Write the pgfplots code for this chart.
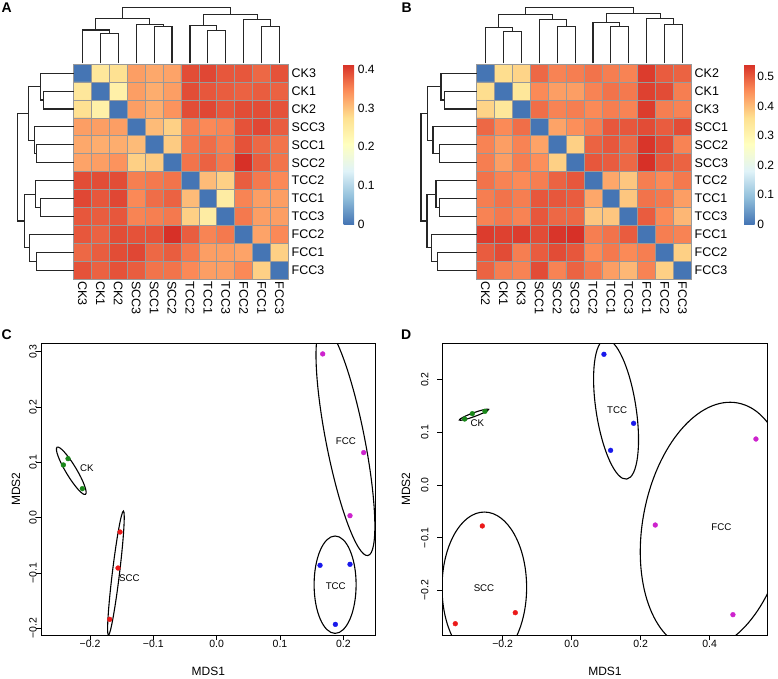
\documentclass[border=0pt]{standalone}
\usepackage{pgfplots}
\pgfplotsset{compat=1.18}
\usepackage{pgfplotstable}
\usepackage{fontspec}
\setmainfont{Liberation Sans}
\definecolor{grey60}{RGB}{153,153,153}
\definecolor{ckgreen}{RGB}{25,135,25}
\definecolor{sccred}{RGB}{235,25,25}
\definecolor{tccblue}{RGB}{25,25,235}
\definecolor{fccmag}{RGB}{205,35,205}
\newcommand\hfont{\fontsize{12.5}{14}\selectfont}
\newcommand\cfont{\fontsize{12}{14}\selectfont}
\newcommand\tfont{\fontsize{10.5}{12}\selectfont}
\newcommand\lfont{\fontsize{12}{14}\selectfont}
\newcommand\gfont{\fontsize{9.7}{11}\selectfont}
\tikzset{ell/.style={black, line width=1.1pt}}

\pgfplotstableread{
x y c
0 0 0
1 0 0.260
2 0 0.273
3 0 0.330
4 0 0.322
5 0 0.326
6 0 0.392
7 0 0.396
8 0 0.384
9 0 0.384
10 0 0.372
11 0 0.388
0 1 0.260
1 1 0
2 1 0.240
3 1 0.330
4 1 0.318
5 1 0.330
6 1 0.392
7 1 0.384
8 1 0.380
9 1 0.376
10 1 0.380
11 1 0.376
0 2 0.273
1 2 0.240
2 2 0
3 2 0.330
4 2 0.318
5 2 0.339
6 2 0.392
7 2 0.396
8 2 0.384
9 2 0.392
10 2 0.392
11 2 0.388
0 3 0.330
1 3 0.330
2 3 0.330
3 3 0
4 3 0.306
5 3 0.289
6 3 0.355
7 3 0.347
8 3 0.351
9 3 0.388
10 3 0.396
11 3 0.380
0 4 0.322
1 4 0.318
2 4 0.318
3 4 0.306
4 4 0
5 4 0.293
6 4 0.359
7 4 0.368
8 4 0.355
9 4 0.388
10 4 0.372
11 4 0.363
0 5 0.326
1 5 0.330
2 5 0.339
3 5 0.289
4 5 0.293
5 5 0
6 5 0.363
7 5 0.376
8 5 0.359
9 5 0.413
10 5 0.380
11 5 0.363
0 6 0.392
1 6 0.392
2 6 0.392
3 6 0.355
4 6 0.359
5 6 0.363
6 6 0
7 6 0.306
8 6 0.289
9 6 0.380
10 6 0.359
11 6 0.347
0 7 0.396
1 7 0.384
2 7 0.396
3 7 0.347
4 7 0.368
5 7 0.376
6 7 0.306
7 7 0
8 7 0.248
9 7 0.351
10 7 0.330
11 7 0.330
0 8 0.384
1 8 0.380
2 8 0.384
3 8 0.351
4 8 0.355
5 8 0.359
6 8 0.289
7 8 0.248
8 8 0
9 8 0.359
10 8 0.330
11 8 0.330
0 9 0.384
1 9 0.376
2 9 0.392
3 9 0.388
4 9 0.388
5 9 0.413
6 9 0.380
7 9 0.351
8 9 0.359
9 9 0
10 9 0.326
11 9 0.347
0 10 0.372
1 10 0.380
2 10 0.392
3 10 0.396
4 10 0.372
5 10 0.380
6 10 0.359
7 10 0.330
8 10 0.330
9 10 0.326
10 10 0
11 10 0.289
0 11 0.388
1 11 0.376
2 11 0.388
3 11 0.380
4 11 0.363
5 11 0.363
6 11 0.347
7 11 0.330
8 11 0.330
9 11 0.347
10 11 0.289
11 11 0
}\hmA

\pgfplotstableread{
x y c
0 0 0
1 0 0.364
2 0 0.375
3 0 0.489
4 0 0.462
5 0 0.467
6 0 0.478
7 0 0.467
8 0 0.462
9 0 0.532
10 0 0.500
11 0 0.494
0 1 0.364
1 1 0
2 1 0.342
3 1 0.456
4 1 0.434
5 1 0.434
6 1 0.462
7 1 0.478
8 1 0.472
9 1 0.527
10 1 0.516
11 1 0.467
0 2 0.375
1 2 0.342
2 2 0
3 2 0.483
4 2 0.462
5 2 0.467
6 2 0.456
7 2 0.467
8 2 0.462
9 2 0.532
10 2 0.467
11 2 0.462
0 3 0.489
1 3 0.456
2 3 0.483
3 3 0
4 3 0.429
5 3 0.451
6 3 0.467
7 3 0.505
8 3 0.505
9 3 0.516
10 3 0.500
11 3 0.516
0 4 0.462
1 4 0.434
2 4 0.462
3 4 0.429
4 4 0
5 4 0.380
6 4 0.494
7 4 0.505
8 4 0.489
9 4 0.538
10 4 0.516
11 4 0.462
0 5 0.467
1 5 0.434
2 5 0.467
3 5 0.451
4 5 0.380
5 5 0
6 5 0.505
7 5 0.500
8 5 0.489
9 5 0.543
10 5 0.505
11 5 0.494
0 6 0.478
1 6 0.462
2 6 0.456
3 6 0.467
4 6 0.494
5 6 0.505
6 6 0
7 6 0.424
8 6 0.391
9 6 0.467
10 6 0.456
11 6 0.472
0 7 0.467
1 7 0.478
2 7 0.467
3 7 0.505
4 7 0.505
5 7 0.500
6 7 0.424
7 7 0
8 7 0.391
9 7 0.478
10 7 0.472
11 7 0.434
0 8 0.462
1 8 0.472
2 8 0.462
3 8 0.505
4 8 0.489
5 8 0.489
6 8 0.391
7 8 0.391
8 8 0
9 8 0.500
10 8 0.456
11 8 0.407
0 9 0.532
1 9 0.527
2 9 0.532
3 9 0.516
4 9 0.538
5 9 0.543
6 9 0.467
7 9 0.478
8 9 0.500
9 9 0
10 9 0.467
11 9 0.462
0 10 0.500
1 10 0.516
2 10 0.467
3 10 0.500
4 10 0.516
5 10 0.505
6 10 0.456
7 10 0.472
8 10 0.456
9 10 0.467
10 10 0
11 10 0.380
0 11 0.494
1 11 0.467
2 11 0.462
3 11 0.516
4 11 0.462
5 11 0.494
6 11 0.472
7 11 0.434
8 11 0.407
9 11 0.462
10 11 0.380
11 11 0
}\hmB

\pgfplotstableread{
p h
1 0
1 30
2 30
2 0
nan nan
0 0
0 33.3
1.5 33.3
1.5 30
nan nan
4 0
4 36.7
5 36.7
5 0
nan nan
3 0
3 38.7
4.5 38.7
4.5 36.7
nan nan
0.75 33.3
0.75 45
3.75 45
3.75 38.7
nan nan
7 0
7 33.2
8 33.2
8 0
nan nan
6 0
6 37.7
7.5 37.7
7.5 33.2
nan nan
10 0
10 37
11 37
11 0
nan nan
9 0
9 44.2
10.5 44.2
10.5 37
nan nan
6.75 37.7
6.75 48.7
9.75 48.7
9.75 44.2
nan nan
2.25 45
2.25 55.8
8.25 55.8
8.25 48.7
}\treeA

\pgfplotstableread{
p h
1 0
1 31.8
2 31.8
2 0
nan nan
0 0
0 35.5
1.5 35.5
1.5 31.8
nan nan
4 0
4 37.2
5 37.2
5 0
nan nan
3 0
3 43.5
4.5 43.5
4.5 37.2
nan nan
0.75 35.5
0.75 48.8
3.75 48.8
3.75 43.5
nan nan
7 0
7 37.2
8 37.2
8 0
nan nan
6 0
6 40.5
7.5 40.5
7.5 37.2
nan nan
10 0
10 38.8
11 38.8
11 0
nan nan
9 0
9 45.2
10.5 45.2
10.5 38.8
nan nan
6.75 40.5
6.75 49.5
9.75 49.5
9.75 45.2
nan nan
2.25 48.8
2.25 55.5
8.25 55.5
8.25 49.5
}\treeB

\pgfplotsset{
  heat/.style={anchor=south west, scale only axis, width=215pt, height=215pt,
    xmin=-0.5, xmax=11.5, ymin=-0.5, ymax=11.5, y dir=reverse, axis on top,
    xtick={0,...,11}, ytick={0,...,11},
    minor xtick={0.5,1.5,...,10.5}, minor ytick={0.5,1.5,...,10.5},
    xminorgrids, yminorgrids, minor grid style={grey60, line width=0.8pt},
    major tick length=0pt, minor tick length=0pt,
    axis line style={grey60, line width=0.8pt},
    yticklabel pos=right,
    xticklabel style={rotate=-90, anchor=west, font=\hfont, inner sep=2pt},
    yticklabel style={anchor=west, font=\hfont, inner sep=3pt},
    colormap={rdylbu}{rgb255=(69,117,180) rgb255=(145,191,219) rgb255=(224,243,248) rgb255=(255,255,191) rgb255=(254,224,144) rgb255=(252,141,89) rgb255=(215,48,39)},
    point meta min=0},
  cbar/.style={at={(parent axis.north east)}, anchor=north west,
    scale only axis, width=10.7pt, height=160pt,
    axis line style={draw=none}, major tick length=0pt},
  dtop/.style={anchor=south west, scale only axis, width=215pt, height=60pt,
    xmin=-0.5, xmax=11.5, ymin=0, ymax=60, hide axis, clip=false, unbounded coords=jump},
  dleft/.style={anchor=south west, scale only axis, width=60pt, height=215pt,
    xmin=0, xmax=60, x dir=reverse, ymin=-0.5, ymax=11.5, y dir=reverse,
    hide axis, clip=false, unbounded coords=jump},
  dline/.style={black!85, line width=1.1pt, line join=miter},
  mds/.style={anchor=south west, scale only axis, height=291.7pt,
    axis line style={line width=0.8pt}, tick align=outside,
    xtick pos=left, ytick pos=left, major tick length=5pt,
    tick style={line width=0.8pt, black},
    xticklabel style={font=\tfont, inner sep=0pt},
    yticklabel style={font=\tfont, rotate=90, anchor=south, inner sep=0pt},
    label style={font=\lfont, inner sep=0pt}},
  pts/.style={only marks, mark=*, mark size=2.4pt},
}

\begin{document}
\begin{tikzpicture}
\useasboundingbox (0,0) rectangle (778pt,678pt);

% ---------- A ----------
\begin{axis}[heat, at={(73.5pt,398.8pt)}, point meta max=0.413,
  xticklabels={CK3,CK1,CK2,SCC3,SCC1,SCC2,TCC2,TCC1,TCC3,FCC2,FCC1,FCC3},
  yticklabels={CK3,CK1,CK2,SCC3,SCC1,SCC2,TCC2,TCC1,TCC3,FCC2,FCC1,FCC3},
  colorbar, colorbar style={cbar, xshift=46.5pt, ytick={0,0.1,0.2,0.3,0.4}, yticklabels={0,0.1,0.2,0.3,0.4},
    yticklabel style={font=\cfont, anchor=west, inner sep=3.5pt}}]
\addplot[matrix plot*, mesh/cols=12, point meta=explicit] table[x=x, y=y, meta=c] {\hmA};
\end{axis}
\begin{axis}[dtop, at={(73.5pt,614.7pt)}]
\addplot[dline] table[x=p, y=h] {\treeA};
\end{axis}
\begin{axis}[dleft, at={(13.5pt,398.8pt)}]
\addplot[dline] table[x=h, y=p] {\treeA};
\end{axis}

% ---------- B ----------
\begin{axis}[heat, at={(476.5pt,398.8pt)}, point meta max=0.543,
  xticklabels={CK2,CK1,CK3,SCC1,SCC2,SCC3,TCC2,TCC1,TCC3,FCC1,FCC2,FCC3},
  yticklabels={CK2,CK1,CK3,SCC1,SCC2,SCC3,TCC2,TCC1,TCC3,FCC1,FCC2,FCC3},
  colorbar, colorbar style={cbar, xshift=44pt, ytick={0,0.1,0.2,0.3,0.4,0.5}, yticklabels={0,0.1,0.2,0.3,0.4,0.5},
    yticklabel style={font=\cfont, anchor=west, inner sep=2.5pt}}]
\addplot[matrix plot*, mesh/cols=12, point meta=explicit] table[x=x, y=y, meta=c] {\hmB};
\end{axis}
\begin{axis}[dtop, at={(476.5pt,614.7pt)}]
\addplot[dline] table[x=p, y=h] {\treeB};
\end{axis}
\begin{axis}[dleft, at={(416.5pt,398.8pt)}]
\addplot[dline] table[x=h, y=p] {\treeB};
\end{axis}

% ---------- C ----------
\begin{axis}[mds, at={(41pt,43pt)}, width=334.7pt,
  xmin=-0.2774, xmax=0.2511, ymin=-0.212, ymax=0.315,
  xtick={-0.2,-0.1,0,0.1,0.2}, xticklabels={−0.2,−0.1,0.0,0.1,0.2},
  ytick={-0.2,-0.1,0,0.1,0.2,0.3}, yticklabels={−0.2,−0.1,0.0,0.1,0.2,0.3},
  yticklabel shift=-1pt, xticklabel shift=-0.3pt,
  xlabel={MDS1}, ylabel={MDS2},
  xlabel style={at={(axis description cs:0.5,-0.1234)}, anchor=center},
  ylabel style={at={(axis description cs:-0.0747,0.5)}, anchor=center}]
\addplot[pts, ckgreen] coordinates {(-0.2421,0.0952) (-0.2347,0.1066) (-0.2121,0.0524)};
\addplot[pts, sccred] coordinates {(-0.1526,-0.0259) (-0.1558,-0.0910) (-0.1689,-0.1837)};
\addplot[pts, tccblue] coordinates {(0.1632,-0.0861) (0.2105,-0.0843) (0.1874,-0.1928)};
\addplot[pts, fccmag] coordinates {(0.1674,0.2958) (0.2321,0.1175) (0.2105,0.0036)};
\draw[ell, rotate around={-59:(axis cs:-0.2296,0.0847)}] (axis cs:-0.2296,0.0847) ellipse [x radius=27.5pt, y radius=5.3pt];
\draw[ell, rotate around={83.1:(axis cs:-0.1591,-0.1002)}] (axis cs:-0.1591,-0.1002) ellipse [x radius=62.5pt, y radius=3.6pt];
\draw[ell] (axis cs:0.187,-0.1211) ellipse [x radius=21pt, y radius=48.7pt];
\draw[ell, rotate around={-78.9:(axis cs:0.2033,0.139)}] (axis cs:0.2033,0.139) ellipse [x radius=117pt, y radius=19.3pt];
\node[font=\gfont] at (axis cs:-0.205,0.090) {CK};
\node[font=\gfont] at (axis cs:-0.138,-0.110) {SCC};
\node[font=\gfont] at (axis cs:0.188,-0.123) {TCC};
\node[font=\gfont] at (axis cs:0.204,0.139) {FCC};
\end{axis}

% ---------- D ----------
\begin{axis}[mds, at={(442.3pt,43pt)}, width=325.3pt,
  xmin=-0.3749, xmax=0.5681, ymin=-0.2848, ymax=0.269,
  xtick={-0.2,0,0.2,0.4}, xticklabels={−0.2,0.0,0.2,0.4},
  ytick={-0.2,-0.1,0,0.1,0.2}, yticklabels={−0.2,−0.1,0.0,0.1,0.2},
  yticklabel shift=8.6pt, xticklabel shift=-0.3pt,
  xlabel={MDS1}, ylabel={MDS2},
  xlabel style={at={(axis description cs:0.5,-0.1234)}, anchor=center},
  ylabel style={at={(axis description cs:-0.1116,0.5)}, anchor=center}]
\addplot[pts, ckgreen] coordinates {(-0.3101,0.1253) (-0.2879,0.1354) (-0.2512,0.1399)};
\addplot[pts, tccblue] coordinates {(0.0937,0.2481) (0.1797,0.1171) (0.1130,0.0658)};
\addplot[pts, sccred] coordinates {(-0.2589,-0.0778) (-0.1633,-0.2424) (-0.3372,-0.2633)};
\addplot[pts, fccmag] coordinates {(0.5343,0.0873) (0.2425,-0.0760) (0.4676,-0.2462)};
\draw[ell, rotate around={20:(axis cs:-0.2831,0.1335)}] (axis cs:-0.2831,0.1335) ellipse [x radius=15.6pt, y radius=1.9pt];
\draw[ell, rotate around={-81.3:(axis cs:0.1288,0.1437)}] (axis cs:0.1288,0.1437) ellipse [x radius=70.6pt, y radius=20pt];
\draw[ell] (axis cs:-0.2531,-0.1945) ellipse [x radius=42.3pt, y radius=75.4pt];
\draw[ell, rotate around={79.4:(axis cs:0.4148,-0.0783)}] (axis cs:0.4148,-0.0783) ellipse [x radius=125.4pt, y radius=72pt];
\node[font=\gfont] at (axis cs:-0.273,0.118) {CK};
\node[font=\gfont] at (axis cs:0.132,0.142) {TCC};
\node[font=\gfont] at (axis cs:-0.254,-0.196) {SCC};
\node[font=\gfont] at (axis cs:0.434,-0.080) {FCC};
\end{axis}

% panel letters
\node[font=\bfseries\fontsize{14}{16}\selectfont] at (6.7pt,670.5pt) {A};
\node[font=\bfseries\fontsize{14}{16}\selectfont] at (406.7pt,670.5pt) {B};
\node[font=\bfseries\fontsize{14}{16}\selectfont] at (6.7pt,343pt) {C};
\node[font=\bfseries\fontsize{14}{16}\selectfont] at (406.2pt,343pt) {D};
\end{tikzpicture}
\end{document}
